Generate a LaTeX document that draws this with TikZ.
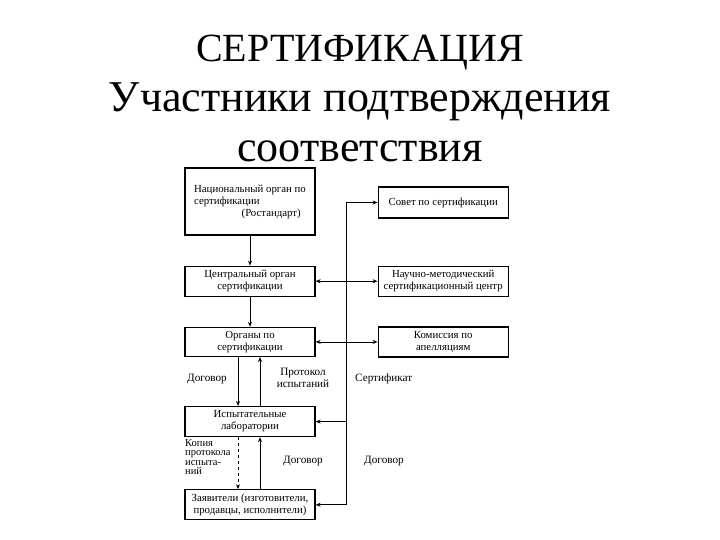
\documentclass[tikz,border=0pt]{standalone}
\usepackage{fontspec}
\setmainfont{Liberation Serif}
\usepackage{tikz}
\usetikzlibrary{arrows.meta,positioning}

\begin{document}
\begin{tikzpicture}[
  x=1pt, y=-1pt,
  box/.style={draw, line width=1.2pt, minimum width=130pt, minimum height=30pt,
              inner sep=2pt, font=\fontsize{10.8}{12}\selectfont, align=center},
  lbl/.style={font=\fontsize{11.2}{12}\selectfont, align=left, inner sep=0pt},
  arr/.style={-{Stealth[length=5pt,width=4pt]}, line width=0.8pt},
  arrs/.style={{Stealth[length=5pt,width=4pt]}-{Stealth[length=5pt,width=4pt]}, line width=0.8pt}
]
\useasboundingbox (0,0) rectangle (720,540);

\node[font=\fontsize{44}{50}\selectfont, align=center] (title) at (360,98)
  {{\fontsize{40}{50}\selectfont СЕРТИФИКАЦИЯ}\\Участники подтверждения\\соответствия};

% left column
\node[box, minimum height=67pt, align=left] (nat) at (250,201.5)
  {Национальный орган по\\сертификации\\\hspace*{4.4em}(Ростандарт)};
\node[box, below=30pt of nat] (central) {Центральный орган\\сертификации};
\node[box, below=30pt of central, minimum height=29pt] (organs) {Органы по\\сертификации};
\node[box, below=49pt of organs] (labs) {Испытательные\\лаборатории};
\node[box, below=52pt of labs] (appl) {Заявители (изготовители,\\продавцы, исполнители)};

% right column
\node[box, right=62pt of central] (nmc) {Научно-методический\\сертификационный центр};
\node[box, above=47pt of nmc, minimum height=31pt] (sovet) {Совет по сертификации};
\node[box, right=62pt of organs] (appeal) {Комиссия по\\апелляциям};

\coordinate (bustop) at ([xshift=-31pt]sovet.west);
\coordinate (busbot) at (bustop |- appl.east);

\draw[arr] (nat) -- (central);
\draw[arr] (central) -- (organs);
\draw[arrs] (central.east) -- (nmc.west);
\draw[arrs] (organs.east) -- (appeal.west);
\draw[arr] (busbot) |- (sovet.west);
\draw[arr] (busbot) -- (appl.east);
\draw[arr] (busbot |- labs.east) -- (labs.east);

\draw[arr] ([xshift=-12pt]organs.south) -- ([xshift=-12pt]labs.north);
\draw[arr] ([xshift=10pt]labs.north) -- ([xshift=10pt]organs.south);
\draw[arr, dashed] ([xshift=-12pt]labs.south) -- ([xshift=-12pt]appl.north);
\draw[arr] ([xshift=10pt]appl.north) -- ([xshift=10pt]labs.south);

\node[lbl, anchor=west] (dog1) at (187,379) {Договор};
\node[lbl, align=center] (prot) at (303,378) {Протокол\\испытаний};
\node[lbl, anchor=west] (cert) at (355,379) {Сертификат};
\node[lbl, anchor=north west, font=\fontsize{10.5}{9.6}\selectfont] (copy) at (185,439)
  {Копия\\протокола\\испыта-\\ний};
\node[lbl] (dog2) at (303,461) {Договор};
\node[lbl] (dog3) at (384,461) {Договор};
\end{tikzpicture}
\end{document}
